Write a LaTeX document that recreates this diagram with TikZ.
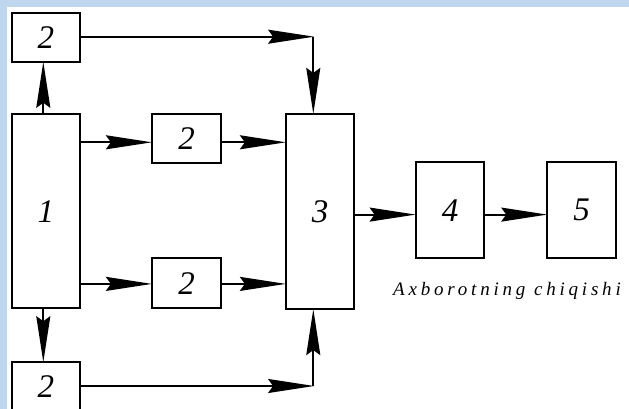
\documentclass[tikz,border=0pt]{standalone}
\usepackage{fontspec}
\setmainfont{Liberation Serif}
\usetikzlibrary{arrows.meta,calc}
\definecolor{bgblue}{RGB}{190,214,238}
\tikzset{
  blk/.style={draw=black, line width=1.8pt, fill=white, inner sep=0pt,
    font=\fontsize{33}{33}\selectfont\itshape},
  arr/.style={line width=1.8pt, -{Stealth[length=46pt,width=14pt,inset=5pt]}, shorten >=-0.8pt},
}
\begin{document}
\begin{tikzpicture}[x=1pt,y=-1pt]
\useasboundingbox (0,0) rectangle (629,409);
\fill[bgblue] (0,0) rectangle (629,409);
\fill[white] (7,7) rectangle (629,409);
\clip (0,0) rectangle (629,409);
\node[blk, minimum width=68pt, minimum height=49pt] (t2) at (45.8,37.2) {2};
\node[blk, minimum width=68pt, minimum height=194pt] (b1) at (45.8,211.2) {1};
\node[blk, minimum width=69pt, minimum height=49pt] (m1) at (186.5,138.5) {2};
\node[blk, minimum width=69pt, minimum height=50pt] (m2) at (186.5,283.3) {2};
\node[blk, minimum width=68pt, minimum height=195pt] (b3) at (320,211.5) {3};
\node[blk, minimum width=68.6pt, minimum height=96pt] (b4) at (450,210.3) {4};
\node[blk, minimum width=68.7pt, minimum height=96pt] (b5) at (581.7,210.3) {5};
\node[blk, minimum width=68pt, minimum height=49pt] (bt2) at (45.8,386.8) {2};
\node[anchor=base west, inner sep=0pt, font=\fontsize{19}{19}\selectfont\itshape\addfontfeature{LetterSpace=20}] (lbl) at (393,295) {Axborotning chiqishi};
\coordinate (c1) at (313.3,36.7);
\coordinate (c2) at (313.3,386);
% vertical from 1
\draw[arr] ([xshift=-2.5pt]b1.north) -- ([xshift=-2.5pt]t2.south);
\draw[arr] ([xshift=-2.5pt]b1.south) -- ([xshift=-2.5pt]bt2.north);
% top and bottom routes
\draw[arr] (t2.east |- c1) -- (c1);
\draw[arr] (c1) -- (c1 |- b3.north);
\draw[arr] (bt2.east |- c2) -- (c2);
\draw[arr] (c2) -- (c2 |- b3.south);
% middle rows
\draw[arr] ([yshift=-3.8pt]m1.west -| b1.east) -- ([yshift=-3.8pt]m1.west);
\draw[arr] ([yshift=-3.8pt]m1.east) -- ([yshift=-3.8pt]m1.east -| b3.west);
\draw[arr] ([yshift=-0.6pt]m2.west -| b1.east) -- ([yshift=-0.6pt]m2.west);
\draw[arr] ([yshift=-0.6pt]m2.east) -- ([yshift=-0.6pt]m2.east -| b3.west);
% to 4 and 5
\draw[arr] ([yshift=-4.3pt]b4.west -| b3.east) -- ([yshift=-4.3pt]b4.west);
\draw[arr] ([yshift=-4.3pt]b4.east) -- ([yshift=-4.3pt]b5.west);
\end{tikzpicture}
\end{document}
